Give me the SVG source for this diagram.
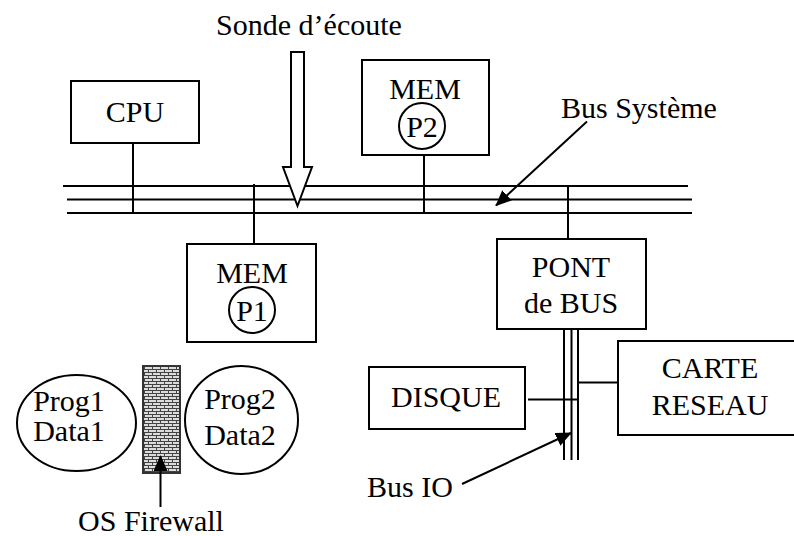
<svg xmlns="http://www.w3.org/2000/svg" width="794" height="536" viewBox="0 0 794 536">
<style>
  .box { fill: #fff; stroke: #000; stroke-width: 2; }
  .ln { stroke: #000; stroke-width: 2; fill: none; }
  .t { font-family: "Liberation Serif", "Times New Roman", serif; font-size: 30px; fill: #000; text-anchor: middle; }
</style>
<defs>
  <marker id="ahL" markerWidth="16" markerHeight="14" refX="15" refY="7" orient="auto" markerUnits="userSpaceOnUse" viewBox="0 0 16 14">
    <path d="M0,0 L16,7 L0,14 z" fill="#000"/>
  </marker>
  <pattern id="brick" width="8" height="6" patternUnits="userSpaceOnUse">
    <rect width="8" height="6" fill="#dcdcdc"/>
    <path d="M0,0.5 H8 M0,3.5 H8 M0.5,0.5 V3.5 M4.5,3.5 V6" stroke="#444" stroke-width="1"/>
  </pattern>
</defs>

<g id="firewall">
  <rect x="143" y="366" width="37" height="107" fill="url(#brick)" stroke="#333" stroke-width="2"/>
</g>

<g id="connectors">
  <!-- system bus -->
  <line class="ln" x1="63" y1="186" x2="688" y2="186"/>
  <line class="ln" x1="67" y1="199.5" x2="692" y2="199.5"/>
  <line class="ln" x1="67" y1="213" x2="692" y2="213"/>
  <!-- stubs -->
  <line class="ln" x1="133" y1="143" x2="133" y2="214"/>
  <line class="ln" x1="424" y1="155" x2="424" y2="212"/>
  <line class="ln" x1="254" y1="184" x2="254" y2="244"/>
  <line class="ln" x1="568" y1="185" x2="568" y2="239"/>
  <!-- IO bus -->
  <line class="ln" x1="564" y1="329" x2="564" y2="460"/>
  <line class="ln" x1="571.5" y1="329" x2="571.5" y2="460"/>
  <line class="ln" x1="578" y1="329" x2="578" y2="460"/>
  <line class="ln" x1="528" y1="399.5" x2="579" y2="399.5"/>
  <line class="ln" x1="578" y1="382.5" x2="618" y2="382.5"/>
  <!-- Bus Système arrow -->
  <line class="ln" x1="587" y1="121.5" x2="496" y2="205.5" stroke-width="2.5" marker-end="url(#ahL)"/>
  <!-- Bus IO arrow -->
  <line class="ln" x1="462" y1="484" x2="571" y2="433" stroke-width="2.5" marker-end="url(#ahL)"/>
  <!-- Firewall arrow -->
  <line class="ln" x1="160.5" y1="507" x2="160.5" y2="456" stroke-width="2.5" marker-end="url(#ahL)"/>
  <!-- Sonde hollow arrow -->
  <path d="M291,52 H304 V167 H312 L297.5,206 L283,167 H291 Z" fill="#fff" stroke="#000" stroke-width="2"/>
</g>

<g id="sonde-label"><text class="t" x="309" y="35">Sonde d’écoute</text></g>

<g id="cpu">
  <rect class="box" x="71" y="81" width="128" height="62"/>
  <text class="t" x="135" y="122">CPU</text>
</g>

<g id="mem-p2">
  <rect class="box" x="362" y="60" width="127" height="95"/>
  <text class="t" x="425" y="99">MEM</text>
  <circle class="ln" cx="422" cy="126" r="23"/>
  <text class="t" x="422" y="137">P2</text>
</g>

<g id="bus-systeme-label"><text class="t" x="561" y="118" style="text-anchor:start">Bus Système</text></g>

<g id="mem-p1">
  <rect class="box" x="187" y="244" width="129" height="98"/>
  <text class="t" x="252" y="283">MEM</text>
  <circle class="ln" cx="252" cy="310" r="23"/>
  <text class="t" x="252" y="321">P1</text>
</g>

<g id="pont">
  <rect class="box" x="497" y="239" width="149" height="90"/>
  <text class="t" x="571" y="277">PONT</text>
  <text class="t" x="571" y="313">de BUS</text>
</g>

<g id="disque">
  <rect class="box" x="369" y="367" width="156" height="62"/>
  <text class="t" x="446" y="407">DISQUE</text>
</g>

<g id="carte">
  <rect class="box" x="618" y="341" width="180" height="94"/>
  <text class="t" x="710" y="378">CARTE</text>
  <text class="t" x="710" y="415">RESEAU</text>
</g>

<g id="bus-io-label"><text class="t" x="367" y="497" style="text-anchor:start">Bus IO</text></g>

<g id="prog1">
  <ellipse class="ln" cx="76.5" cy="423" rx="59.5" ry="48"/>
  <text class="t" x="69" y="411">Prog1</text>
  <text class="t" x="69" y="441">Data1</text>
</g>

<g id="prog2">
  <ellipse class="ln" cx="241.5" cy="420" rx="56.5" ry="54"/>
  <text class="t" x="240" y="409">Prog2</text>
  <text class="t" x="240" y="445">Data2</text>
</g>

<g id="os-firewall-label"><text class="t" x="151" y="531">OS Firewall</text></g>
</svg>
